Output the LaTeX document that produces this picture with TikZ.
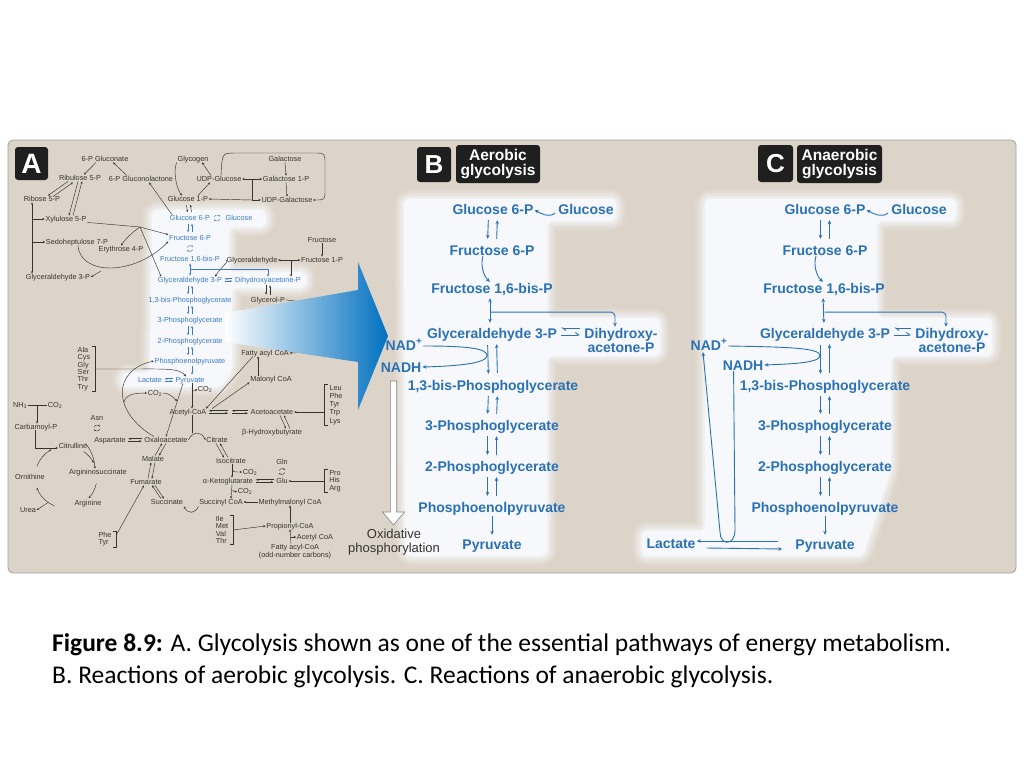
\documentclass[tikz,border=0pt]{standalone}
\usepackage{fontspec}
\setmainfont{Liberation Sans}
\newfontfamily\capfont{Carlito}
\usetikzlibrary{arrows.meta}
\usetikzlibrary{calc}
\usetikzlibrary{positioning}

\definecolor{panel}{RGB}{220,212,200}
\definecolor{hl}{RGB}{246,248,251}
\definecolor{gblue}{RGB}{43,113,181}
\definecolor{ablue}{RGB}{58,122,196}
\definecolor{ink}{RGB}{55,51,47}
\definecolor{bigblue}{RGB}{0,112,192}

\pgfdeclarelayer{bottom}
\pgfdeclarelayer{back}
\pgfdeclarelayer{mid}
\pgfsetlayers{bottom,back,mid,main}

\tikzset{
    amet/.style={font=\fontsize{7.3}{7.6}\selectfont, text=ink, inner sep=0.6pt,
        text height=5.2pt, text depth=0pt},
    aglyc/.style={amet, text=ablue},
    multi/.style={text height={}, text depth={}, align=#1},
    aa/.style={draw=ink, line width=0.45pt, -{Stealth[length=2.4pt,width=2.1pt]}},
    aab/.style={aa, {Stealth[length=2.4pt,width=2.1pt]}-{Stealth[length=2.4pt,width=2.1pt]}},
    ablu/.style={aa, draw=ablue},
    ah/.style={draw=#1, line width=0.45pt,
        -{Straight Barb[harpoon,length=2pt,width=2.6pt]}, shorten <=2pt, shorten >=2pt},
    apair/.style={ablu, shorten <=2.5pt, shorten >=2.5pt},
    brk/.style={draw=ink, line width=0.45pt},
    glyc/.style={font=\bfseries\fontsize{14}{14}\selectfont, text=gblue, inner sep=1pt,
        text height=10pt, text depth=0pt},
    ga/.style={draw=gblue, line width=0.9pt, -{Stealth[length=4pt,width=3.6pt]}},
    gab/.style={ga, {Stealth[length=4pt,width=3.6pt]}-{Stealth[length=4pt,width=3.6pt]}},
    gh/.style={draw=gblue, line width=0.9pt,
        -{Straight Barb[harpoon,length=3.5pt,width=5pt]}, shorten <=3pt, shorten >=3pt},
    bpair/.style={ga, shorten <=5pt, shorten >=5pt},
    badge/.style={fill=black!88, rounded corners=3pt, text=white, inner sep=0pt, align=center},
    oxtext/.style={font=\fontsize{13}{14.5}\selectfont, text=ink, align=center, inner sep=0pt},
}

% two opposite arrows side by side (vertical) or one above the other (horizontal)
\newcommand{\duoarrows}[4]{%
    \draw[#1] ([xshift=-#4]#2) -- ([xshift=-#4]#3);
    \draw[#1] ([xshift=#4]#3) -- ([xshift=#4]#2);}
\newcommand{\swaparrows}[4]{%
    \draw[#1] ([yshift=#4]#3) -- ([yshift=#4]#2);
    \draw[#1] ([yshift=-#4]#2) -- ([yshift=-#4]#3);}
% small circular pair of arrows
\newcommand{\twirl}[2]{%
    \draw[draw=#1, line width=0.45pt, -{Stealth[length=1.8pt,width=1.7pt]}]
        ([shift={(160:3pt)}]#2) arc[start angle=160, end angle=25, radius=3pt];
    \draw[draw=#1, line width=0.45pt, -{Stealth[length=1.8pt,width=1.7pt]}]
        ([shift={(-20:3pt)}]#2) arc[start angle=-20, end angle=-155, radius=3pt];}
% soft light area
\newcommand{\glow}[1]{%
    \foreach \w/\m in {20/10, 16/22, 12/38, 8/56, 4/76}
        {\draw[hl!\m!panel, line width=\w pt, rounded corners=6pt, line join=round] #1;}
    \fill[hl, rounded corners=6pt] #1;}

\begin{document}
\begin{tikzpicture}[x=1pt, y=-1pt]
\useasboundingbox (0,0) rectangle (1024,768);

\begin{pgfonlayer}{bottom}
    \fill[white] (0,0) rectangle (1024,768);
    \draw[gray!75, fill=panel, line width=0.8pt, rounded corners=5pt] (8,140) rectangle (1016,573);
    \begin{scope}
        \clip[rounded corners=5pt] (8,140) rectangle (1016,573);
        \glow{(152,210) -- (266,210) -- (266,227) -- (229,227) -- (229,272) -- (306,272)
            -- (306,288) -- (232,288) -- (232,371) -- (222,387) -- (122,387) -- (122,373)
            -- (150,373) -- cycle}
        \glow{(404,199) -- (616,199) -- (616,221) -- (547,221) -- (547,318) -- (660,318)
            -- (660,356) -- (547,356) -- (547,556) -- (405,556) -- cycle}
        \glow{(705,199) -- (956,199) -- (956,221) -- (877,221) -- (877,318) -- (992,318)
            -- (992,356) -- (891,356) -- (891,470) -- (863,556) -- (642,556) -- (642,531)
            -- (705,531) -- cycle}
    \end{scope}
\end{pgfonlayer}

%% ---------------- panel A ----------------
\node[badge, minimum width=33pt, minimum height=33pt, font=\bfseries\fontsize{28}{28}\selectfont] (tagA) at (31.5,163.5) {A};

\node[amet] (gluconate) at (105,159) {6-P Gluconate};
\node[amet] (ribulose) at (80,178) {Ribulose 5-P};
\node[amet] (lactone) at (141,179) {6-P Gluconolactone};
\node[amet] (ribose) at (42,199) {Ribose 5-P};
\node[amet] (xylulose) at (66,219) {Xylulose 5-P};
\node[amet] (sedo) at (77,242) {Sedoheptulose 7-P};
\node[amet] (erythrose) at (121,249) {Erythrose 4-P};
\node[amet] (gald) at (58,277) {Glyceraldehyde 3-P};
\node[amet] (glycogen) at (193,159) {Glycogen};
\node[amet] (udpglc) at (219,179) {UDP-Glucose};
\node[amet] (galactose) at (285,159) {Galactose};
\node[amet] (gal1p) at (286,179) {Galactose 1-P};
\node[amet] (glc1p) at (188,199) {Glucose 1-P};
\node[amet] (udpgal) at (287,200) {UDP-Galactose};
\node[amet] (fructose) at (322,240) {Fructose};
\node[amet] (fru1p) at (322,260) {Fructose 1-P};
\node[amet] (glyald) at (252,260) {Glyceraldehyde};
\node[amet] (glycerolp) at (268,300) {Glycerol-P};

\node[aglyc] (g6pA) at (190,218) {Glucose 6-P};
\node[aglyc] (glcA) at (239,218) {Glucose};
\node[aglyc] (f6pA) at (190,238) {Fructose 6-P};
\node[aglyc] (f16A) at (190,259) {Fructose 1,6-bis-P};
\node[aglyc] (gapA) at (190,280) {Glyceraldehyde 3-P};
\node[aglyc] (dhapA) at (268,280) {Dihydroxyacetone-P};
\node[aglyc] (bpgA) at (190,300) {1,3-bis-Phosphoglycerate};
\node[aglyc] (pg3A) at (190,320) {3-Phosphoglycerate};
\node[aglyc] (pg2A) at (190,341) {2-Phosphoglycerate};
\node[aglyc] (pepA) at (190,361) {Phosphoenolpyruvate};
\node[aglyc] (lacA) at (150,380) {Lactate};
\node[aglyc] (pyrA) at (190,380) {Pyruvate};

\node[amet] (fattyA) at (265,353) {Fatty acyl CoA};
\node[amet] (malonyl) at (271,379) {Malonyl CoA};
\node[amet] (acetylA) at (188,412) {Acetyl-CoA};
\node[amet] (acetoac) at (272,412) {Acetoacetate};
\node[amet] (hydroxy) at (272,432) {β-Hydroxybutyrate};
\node[amet, multi=left, font=\fontsize{7.3}{7.4}\selectfont] (aminoA) at (84,369) {Ala\\Cys\\Gly\\Ser\\Thr\\Try};
\node[amet, multi=left, font=\fontsize{7.3}{8.2}\selectfont] (aminoB) at (336,405) {Leu\\Phe\\Tyr\\Trp\\Lys};
\node[amet] (nh3) at (20,405) {NH\textsubscript{3}};
\node[amet] (co2a) at (55,405) {CO\textsubscript{2}};
\node[amet] (carbp) at (36,427) {Carbamoyl-P};
\node[amet] (citrulline) at (73,446) {Citrulline};
\node[amet] (argsuc) at (98,472) {Argininosuccinate};
\node[amet] (ornithine) at (30,477) {Ornithine};
\node[amet] (arginine) at (88,503) {Arginine};
\node[amet] (urea) at (28,510) {Urea};
\node[amet] (asn) at (97,418) {Asn};
\node[amet] (aspartate) at (110,440) {Aspartate};
\node[amet] (oaa) at (166,440) {Oxaloacetate};
\node[amet] (citrate) at (217,440) {Citrate};
\node[amet] (malate) at (153,459) {Malate};
\node[amet] (isocit) at (231,461) {Isocitrate};
\node[amet] (fumarate) at (146,482) {Fumarate};
\node[amet] (akg) at (228,481) {α-Ketoglutarate};
\node[amet] (succinate) at (167,502) {Succinate};
\node[amet] (succoa) at (221,502) {Succinyl CoA};
\node[amet] (co2b) at (250,472) {CO\textsubscript{2}};
\node[amet] (co2c) at (245,491) {CO\textsubscript{2}};
\node[amet] (gln) at (282,462) {Gln};
\node[amet] (glu) at (282,481) {Glu};
\node[amet, multi=left, font=\fontsize{7.3}{7.4}\selectfont] (aminoC) at (335,481) {Pro\\His\\Arg};
\node[amet] (methylmal) at (290,502) {Methylmalonyl CoA};
\node[amet, multi=left, font=\fontsize{7.3}{7.4}\selectfont] (aminoD) at (222,530) {Ile\\Met\\Val\\Thr};
\node[amet] (propionyl) at (290,526) {Propionyl-CoA};
\node[amet] (acetylB) at (315,537) {Acetyl CoA};
\node[amet, multi=center, font=\fontsize{7.3}{7.8}\selectfont] (fattyodd) at (295,552) {Fatty acyl-CoA\\(odd-number carbons)};
\node[amet, multi=left, font=\fontsize{7.3}{7.4}\selectfont] (aminoE) at (105,539) {Phe\\Tyr};
\node[amet] (co2d) at (205,389) {CO\textsubscript{2}};
\node[amet] (co2e) at (155,393) {CO\textsubscript{2}};

% pentose phosphate side
\draw[aa] ([xshift=-18pt]g6pA.north) -- ([xshift=8pt]lactone.south);
\draw[aa] ([xshift=-14pt]lactone.north) -- ([xshift=8pt]gluconate.south);
\draw[aa] ([xshift=-9pt]gluconate.south) -- ([xshift=4pt]ribulose.north);
\draw[aa] ([xshift=-12pt]ribulose.south) -- ([xshift=6pt]ribose.north);
\draw[aa] ([xshift=11pt,yshift=-1pt]ribose.north) -- ([xshift=-7pt,yshift=-1pt]ribulose.south);
\draw[aa] ([xshift=-2pt]ribulose.south) -- ([xshift=3pt]xylulose.north);
\draw[aa] ([xshift=7pt]xylulose.north) -- ([xshift=2pt]ribulose.south);
\coordinate (lbar) at ([xshift=-10pt]ribose.south);
\draw[aab] (lbar) -- (lbar |- gald.north);
\draw[aa] (lbar |- xylulose.west) -- (xylulose.west);
\draw[aa] (lbar |- sedo.west) -- (sedo.west);
\coordinate (xj) at (140,227);
\draw[brk] (xylulose.south east) -- (xj);
\draw[aa] (xj) -- (f6pA.north west);
\draw[aa] (xj) .. controls (134,231) and (126,238) .. (erythrose.north);
\draw[aa] (xj) -- ([xshift=4pt]gapA.north west);
\draw[aa] ([xshift=1pt]sedo.south) .. controls (80,276) and (135,276) .. (f6pA.south west);
\coordinate (sj) at (101,271);
\draw[aa] (sj) -- (gald.east);

% glycogen and galactose
\draw[aa] (glycogen.south west) .. controls (173,170) and (176,188) .. ([xshift=-6pt]glc1p.north);
\draw[aa] ([xshift=-8pt]udpglc.north) -- ([xshift=9pt]glycogen.south);
\draw[aa] ([xshift=10pt]glc1p.north) -- ([xshift=-9pt]udpglc.south);
\draw[aab] (udpglc.east) -- (gal1p.west);
\coordinate (uj) at (252,179);
\coordinate (ul) at (252,200);
\draw[brk] (uj) -- (ul);
\draw[aa] (ul) -- (glc1p.east);
\draw[aa] (ul) -- (udpgal.west);
\draw[aa] (galactose.south) -- (gal1p.north);
\draw[aa] (gal1p.south) -- (udpgal.north);
\draw[aa] ([xshift=2pt]udpglc.north) .. controls (222,153) .. (236,153) -- (314,153)
    .. controls (325,153) .. (325,164) -- (325,190) .. controls (325,200) .. (udpgal.east);

% fructose
\draw[aa] (fructose.south) -- (fru1p.north);
\draw[aab] (glyald.east) -- (fru1p.west);
\coordinate (fj) at (291,260);
\draw[aa] (fj) -- (fj |- dhapA.north);
\draw[aa] (glyald.west) .. controls (230,261) and (222,266) .. ([xshift=25pt]gapA.north);

% glycolysis
\duoarrows{aa, shorten <=2.5pt, shorten >=2.5pt}{glc1p.south}{g6pA.north}{2pt}
\duoarrows{apair}{g6pA.south}{f6pA.north}{2pt}
\coordinate (tw1) at (217,218);
\twirl{ablue}{tw1}
\coordinate (tw2) at (190,248.5);
\twirl{ablue}{tw2}
\draw[ablu, {Stealth[length=2.4pt,width=2.1pt]}-{Stealth[length=2.4pt,width=2.1pt]}, shorten <=1pt, shorten >=1pt]
    (f16A.south) -- (gapA.north);
\draw[ablu] ($(f16A.south)!0.5!(gapA.north)$) -| (dhapA.north);
\swaparrows{ah=ablue}{gapA.east}{dhapA.west}{1.3pt}
\duoarrows{aa, shorten <=2pt, shorten >=2pt}{dhapA.south}{glycerolp.north}{2pt}
\duoarrows{apair}{gapA.south}{bpgA.north}{2pt}
\duoarrows{apair}{bpgA.south}{pg3A.north}{2pt}
\duoarrows{apair}{pg3A.south}{pg2A.north}{2pt}
\duoarrows{apair}{pg2A.south}{pepA.north}{2pt}
\draw[ablu, shorten <=2pt, shorten >=2pt] ([xshift=2pt]pepA.south) -- ([xshift=2pt]pyrA.north);
\swaparrows{ah=ablue}{lacA.east}{pyrA.west}{1.3pt}

% amino acids, pyruvate, acetyl-CoA
\draw[brk] ([xshift=1pt]aminoA.north east) -- ++(3,0) |- ([xshift=1pt]aminoA.south east);
\draw[aa] ([xshift=4pt]aminoA.east) -- (130,369) .. controls (165,369) and (180,368) .. ([xshift=-4pt]pyrA.north);
\draw[aa] ([xshift=-12pt]oaa.north) .. controls (112,412) and (112,370) .. (pepA.west);
\coordinate (ce) at (124,402);
\coordinate (cp) at (177,401);
\draw[aa] (ce) .. controls (126,395) and (133,393) .. (co2e.west);
\draw[aa] (co2e.east) .. controls (168,393) and (172,396) .. (cp);
\draw[aa] ([xshift=-7pt]pyrA.south) -- (oaa.north);
\draw[aa] ([xshift=2pt]pyrA.south) -- ([xshift=4pt]acetylA.north);
\coordinate (pj) at (192,388);
\draw[aa] (pj) .. controls (192,391) and (194,392) .. (co2d.west);
\draw[brk] ([xshift=4pt]acetylA.south) -- (192,433);
\draw[aa] (oaa.east) .. controls (193,431) and (201,431) .. (citrate.west);
\draw[aa] ([xshift=-12pt]fattyA.south) -- ([xshift=18pt]acetylA.north);
\draw[aa] ([xshift=24pt]acetylA.north) -- (malonyl.south west);
\draw[aa] ([xshift=-13pt]malonyl.north) -- ([xshift=-7pt]fattyA.south);
\coordinate (km) at (230,412);
\swaparrows{ah=ink}{acetylA.east}{km}{1.3pt}
\swaparrows{ah=ink}{km}{acetoac.west}{1.3pt}
\draw[aa] ([xshift=8pt]acetoac.south) -- ([xshift=14pt]hydroxy.north);
\draw[aa] ([xshift=18pt]hydroxy.north) -- ([xshift=12pt]acetoac.south);
\draw[brk] ([xshift=-1pt]aminoB.north west) -- ++(-3,0) |- ([xshift=-1pt]aminoB.south west);
\draw[aa] ([xshift=-4pt,yshift=-7pt]aminoB.west) -- (acetoac.east);
\begin{pgfonlayer}{back}
    \coordinate (fin) at (340,351);
    \coordinate (gout) at (340,306);
    \draw[aa] (fin) -- (fattyA.east);
    \draw[brk] (glycerolp.east) -- (gout);
\end{pgfonlayer}

% TCA cycle
\draw[aa] ([xshift=-1pt]citrate.south) -- ([xshift=-7pt]isocit.north);
\draw[aa] ([xshift=-3pt]isocit.north) -- ([xshift=3pt]citrate.south);
\draw[aa] ([xshift=1pt]isocit.south) -- ([xshift=4pt]akg.north);
\coordinate (ij) at (232,469);
\draw[aa] (ij) .. controls (233,472) .. (co2b.west);
\draw[aa] ([xshift=4pt]akg.south) -- ([xshift=10pt]succoa.north);
\coordinate (kj) at (232.5,490);
\draw[aa] (kj) .. controls (234,492) .. (co2c.west);
\draw[aa] ([yshift=-1pt]succoa.south west) .. controls (195,514) and (188,514) .. ([yshift=-1pt]succinate.south east);
\draw[aa] ([xshift=-6pt]succinate.north) -- ([xshift=6pt]fumarate.south);
\draw[aa] ([xshift=9pt]fumarate.south) -- ([xshift=-3pt]succinate.north);
\draw[aa] ([xshift=2pt]fumarate.north) -- ([xshift=-2pt]malate.south);
\draw[aa] ([xshift=2pt]malate.south) -- ([xshift=6pt]fumarate.north);
\draw[aa] ([xshift=2pt]malate.north) -- ([xshift=-4pt]oaa.south);
\draw[aa] (oaa.south) -- ([xshift=6pt]malate.north);
\swaparrows{ah=ink}{aspartate.east}{oaa.west}{1.3pt}
\coordinate (tw3) at (97,428);
\twirl{ink}{tw3}
\swaparrows{ah=ink}{akg.east}{glu.west}{1.3pt}
\coordinate (tw4) at (282,471.5);
\twirl{ink}{tw4}
\draw[brk] ([xshift=-1pt]aminoC.north west) -- ++(-3,0) |- ([xshift=-1pt]aminoC.south west);
\draw[aa] ([xshift=-4pt]aminoC.west) -- (glu.east);
\draw[aa] (methylmal.west) -- (succoa.east);
\draw[aa] (propionyl.north) -- (methylmal.south);
\draw[brk] ([xshift=1pt]aminoD.north east) -- ++(3,0) |- ([xshift=1pt]aminoD.south east);
\draw[aa] ([xshift=4pt]aminoD.east) -- (propionyl.west);
\draw[aa] ([xshift=-4pt]fattyodd.north) -- (propionyl.south);
\coordinate (oj) at (291,537);
\draw[aa] (oj) -- (acetylB.west);
\draw[brk] ([xshift=1pt]aminoE.north east) -- ++(3,0) |- ([xshift=1pt]aminoE.south east);
\draw[aa] ([xshift=4pt,yshift=4pt]aminoE.east) -- ([xshift=-2pt]fumarate.south);

% urea cycle
\coordinate (nj) at (37,405);
\draw[brk] (nh3.east) -- (co2a.west);
\draw[aa] (nj) -- (nj |- carbp.north);
\draw[aa] ([xshift=-1pt]carbp.south) |- ([yshift=-2pt]citrulline.west);
\draw[aa] ([xshift=-8pt]aspartate.south west) .. controls (92,452) and (94,458) .. ([xshift=-3pt]argsuc.north);
\coordinate (urc) at (66,477);
\draw[aa] ([shift={(160:31pt)}]urc) arc[start angle=160, end angle=118, radius=31pt];
\draw[aa] ([shift={(55:31pt)}]urc) arc[start angle=55, end angle=27, radius=31pt];
\draw[aa] ([shift={(-12:31pt)}]urc) arc[start angle=-12, end angle=-43, radius=31pt];
\draw[aa] ([shift={(-112:31pt)}]urc) arc[start angle=-112, end angle=-160, radius=31pt];
\draw[aa] ([shift={(-125:31pt)}]urc) -- (urea.east);

% big arrow from A to B
\begin{pgfonlayer}{mid}
    \shade[left color=white, right color=bigblue] (225,313) -- (358,290) -- (358,262) -- (388,336)
        -- (358,410) -- (358,362) -- (225,342) -- cycle;
\end{pgfonlayer}

%% ---------------- panel B ----------------
\node[badge, minimum width=34pt, minimum height=35pt, font=\bfseries\fontsize{26}{26}\selectfont] (tagB) at (434,164.5) {B};
\node[badge, minimum width=84pt, minimum height=38pt, font=\bfseries\fontsize{15.5}{15}\selectfont] (titleB) at (498,164) {Aerobic\\glycolysis};

\node[glyc] (g6p) at (493,209) {Glucose 6-P};
\node[glyc] (glc) at (586,209) {Glucose};
\node[glyc] (f6p) at (492,250) {Fructose 6-P};
\node[glyc] (f16) at (492,288) {Fructose 1,6-bis-P};
\node[glyc] (gap) at (492,333) {Glyceraldehyde 3-P};
\node[glyc, multi=center] (dhap) at (621,340) {Dihydroxy-\\acetone-P};
\node[glyc] (nadp) at (404,345) {NAD\textsuperscript{+}};
\node[glyc] (nadh) at (401,367) {NADH};
\node[glyc] (bpg) at (493,385) {1,3-bis-Phosphoglycerate};
\node[glyc] (pg3) at (492,425) {3-Phosphoglycerate};
\node[glyc] (pg2) at (492,466) {2-Phosphoglycerate};
\node[glyc] (pep) at (492,507) {Phosphoenolpyruvate};
\node[glyc] (pyr) at (492,544) {Pyruvate};
\node[oxtext] (oxphos) at (394,542) {Oxidative\\phosphorylation};

\draw[ga] ([xshift=-2pt,yshift=-4pt]glc.west) .. controls +(-6,5) and +(7,4) .. ([yshift=-1pt]g6p.east);
\duoarrows{bpair}{g6p.south}{f6p.north}{4.5pt}
\draw[ga] ([xshift=-9pt]f6p.south) .. controls +(-3,9) and +(-6,-5) .. ([xshift=-2pt]f16.north);
\draw[gab, shorten <=4pt, shorten >=4pt] ([xshift=-2pt]f16.south) -- ([xshift=-2pt]gap.north);
\draw[ga, rounded corners=4pt] ($(f16.south)!0.55!(gap.north)+(-1,0)$) -| ([xshift=-6pt]dhap.north);
\coordinate (gl) at ([yshift=1.5pt]gap.east);
\coordinate (gr) at (gl -| dhap.west);
\swaparrows{gh}{gl}{gr}{3.5pt}
\draw[ga] ([yshift=-1pt]nadp.east) .. controls (465,346) and (488,348) .. (487,356)
    .. controls (486,363) and (460,366) .. (nadh.east);
\duoarrows{ga, shorten <=6pt, shorten >=5pt}{gap.south}{bpg.north}{4.5pt}
\duoarrows{bpair}{bpg.south}{pg3.north}{4.5pt}
\duoarrows{bpair}{pg3.south}{pg2.north}{4.5pt}
\duoarrows{bpair}{pg2.south}{pep.north}{4.5pt}
\draw[ga, shorten <=3pt, shorten >=3pt] (pep.south) -- (pyr.north);
\draw[ink!60, fill=white, line width=0.6pt] (390.3,381) -- (396.7,381) -- (396.7,512) -- (404.5,512)
    -- (393.5,525) -- (382.5,512) -- (390.3,512) -- cycle;

%% ---------------- panel C ----------------
\node[badge, minimum width=35pt, minimum height=37pt, font=\bfseries\fontsize{26}{26}\selectfont] (tagC) at (775.5,163.5) {C};
\node[badge, minimum width=85pt, minimum height=38pt, font=\bfseries\fontsize{15.5}{15}\selectfont] (titleC) at (839.5,164) {Anaerobic\\glycolysis};

\node[glyc] (g6pC) at (825,209) {Glucose 6-P};
\node[glyc] (glcC) at (919,209) {Glucose};
\node[glyc] (f6pC) at (825,250) {Fructose 6-P};
\node[glyc] (f16C) at (824,288) {Fructose 1,6-bis-P};
\node[glyc] (gapC) at (825,333) {Glyceraldehyde 3-P};
\node[glyc, multi=center] (dhapC) at (952,340) {Dihydroxy-\\acetone-P};
\node[glyc] (nadpC) at (709,345) {NAD\textsuperscript{+}};
\node[glyc] (nadhC) at (743,365) {NADH};
\node[glyc] (bpgC) at (825,385) {1,3-bis-Phosphoglycerate};
\node[glyc] (pg3C) at (825,425) {3-Phosphoglycerate};
\node[glyc] (pg2C) at (825,466) {2-Phosphoglycerate};
\node[glyc] (pepC) at (825,507) {Phosphoenolpyruvate};
\node[glyc] (pyrC) at (825,544) {Pyruvate};
\node[glyc] (lacC) at (671,543) {Lactate};

\draw[ga] ([xshift=-2pt,yshift=-4pt]glcC.west) .. controls +(-6,5) and +(7,4) .. ([yshift=-1pt]g6pC.east);
\duoarrows{bpair}{g6pC.south}{f6pC.north}{4.5pt}
\draw[ga] ([xshift=-9pt]f6pC.south) .. controls +(-3,9) and +(-6,-5) .. ([xshift=-1pt]f16C.north);
\draw[gab, shorten <=4pt, shorten >=4pt] ([xshift=-1pt]f16C.south) -- ([xshift=-1pt]gapC.north);
\draw[ga, rounded corners=4pt] ($(f16C.south)!0.55!(gapC.north)$) -| ([xshift=-6pt]dhapC.north);
\coordinate (glC) at ([yshift=1.5pt]gapC.east);
\coordinate (grC) at (glC -| dhapC.west);
\swaparrows{gh}{glC}{grC}{3.5pt}
\draw[ga] ([yshift=-1pt]nadpC.east) .. controls (790,347) and (821,348) .. (820,356)
    .. controls (819,363) and (790,364) .. (nadhC.east);
\duoarrows{ga, shorten <=6pt, shorten >=5pt}{gapC.south}{bpgC.north}{4.5pt}
\duoarrows{bpair}{bpgC.south}{pg3C.north}{4.5pt}
\duoarrows{bpair}{pg3C.south}{pg2C.north}{4.5pt}
\duoarrows{bpair}{pg2C.south}{pepC.north}{4.5pt}
\draw[ga, shorten <=3pt, shorten >=3pt] (pepC.south) -- (pyrC.north);
\coordinate (lb1) at (735,530);
\coordinate (lb2) at (720,532);
\draw[ga] ([xshift=12pt]nadhC.south west) -- (lb1) .. controls (735,546) and (720,546) .. (lb2)
    -- ([xshift=-6pt,yshift=-1pt]nadpC.south);
\draw[ga] ([xshift=-16pt,yshift=3pt]pyrC.west) -- ([yshift=2pt]lacC.east);
\draw[ga] ([xshift=10pt,yshift=-5pt]lacC.east) -- ([xshift=-12pt,yshift=-5pt]pyrC.west);

%% ---------------- caption ----------------
\node[anchor=west, inner sep=0, font=\capfont\fontsize{25.5}{30}\selectfont] (cap1) at (52,645)
    {\textbf{Figure 8.9:} A. Glycolysis shown as one of the essential pathways of energy metabolism.};
\node[anchor=west, inner sep=0, font=\capfont\fontsize{25.5}{30}\selectfont] (cap2) at (52,677)
    {B. Reactions of aerobic glycolysis. C. Reactions of anaerobic glycolysis.};
\end{tikzpicture}
\end{document}
